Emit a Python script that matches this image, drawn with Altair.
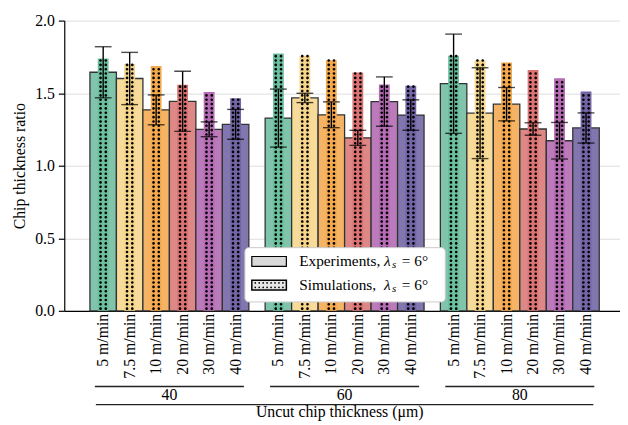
import math
import altair as alt
import pandas as pd

groups = ["40", "60", "80"]
speeds = ["5 m/min", "7.5 m/min", "10 m/min", "20 m/min", "30 m/min", "40 m/min"]

exp_40 = [1.644, 1.601, 1.385, 1.444, 1.251, 1.285]
exp_60 = [1.328, 1.467, 1.351, 1.192, 1.442, 1.349]
exp_80 = [1.565, 1.362, 1.424, 1.253, 1.172, 1.260]

err_40 = [0.176, 0.180, 0.103, 0.207, 0.051, 0.103]
err_60 = [0.200, 0.032, 0.089, 0.052, 0.170, 0.105]
err_80 = [0.342, 0.313, 0.115, 0.043, 0.126, 0.104]

sim_40 = [1.739, 1.701, 1.687, 1.558, 1.508, 1.465]
sim_60 = [1.773, 1.757, 1.726, 1.642, 1.560, 1.551]
sim_80 = [1.757, 1.726, 1.712, 1.660, 1.603, 1.512]

exp_colors = ["#80c4ab", "#f6db9b", "#f5b465", "#de8787", "#bb7bbb", "#8276ae"]
sim_colors = ["#6abf9e", "#f5d58a", "#f5a94e", "#db7373", "#b56ab4", "#7365a5"]

rows = []
for g, e, s, r in zip(groups, [exp_40, exp_60, exp_80], [sim_40, sim_60, sim_80],
                      [err_40, err_60, err_80]):
    for sp, ev, sv, rv in zip(speeds, e, s, r):
        rows.append(dict(group=g, speed=sp, exp=ev, sim=sv, lo=ev - rv, hi=ev + rv))
df = pd.DataFrame(rows)
gdf = pd.DataFrame({"group": groups})
one = pd.DataFrame({"k": [0]})

FONT = "Liberation Serif"
FS = 16
LFS = 15.5
W = 563
H = 294


def dot(cx, cy, r, n=10):
    pts = [(cx + r * math.cos(2 * math.pi * k / n), cy + r * math.sin(2 * math.pi * k / n))
           for k in range(n)]
    return "M" + "L".join(f"{x:.3f},{y:.3f}" for x, y in pts) + "Z"


pair_path = dot(-0.52, 0, 0.27) + dot(0.52, 0, 0.27)
leg_path = "".join(dot(-0.8 + i * 0.2286, yy, 0.05) for i in range(8) for yy in (-0.13, 0.13))

xenc = alt.X("group:N", sort=groups,
             scale=alt.Scale(range=[0, 568], paddingInner=0.093, paddingOuter=0.1465),
             axis=alt.Axis(labels=False, ticks=False, title=None, grid=False,
                           domainColor="black", domainWidth=1.2))
xoff = alt.XOffset("speed:N", sort=speeds, scale=alt.Scale(paddingInner=0, paddingOuter=0))
yscale = alt.Scale(domain=[0, 2], nice=False)
yaxis = alt.Axis(title="Chip thickness ratio", values=[0, 0.5, 1, 1.5, 2], format=".1f",
                 grid=True, gridColor="#dddddd", gridWidth=1,
                 domainColor="black", domainWidth=1.2, tickColor="black", tickSize=6,
                 tickWidth=1.2, labelFont=FONT, labelFontSize=FS, labelColor="black",
                 labelPadding=4, titleFont=FONT, titleFontSize=FS, titleFontWeight="normal",
                 titleColor="black", titlePadding=7)


def Y(f):
    return alt.Y(f, type="quantitative", scale=yscale, axis=yaxis)


base = alt.Chart(df)

exp_bars = base.mark_bar(stroke="#333333", strokeWidth=1.3).encode(
    x=xenc, xOffset=xoff, y=Y("exp"),
    fill=alt.Fill("speed:N", sort=speeds, scale=alt.Scale(domain=speeds, range=exp_colors), legend=None))

sim_bars = base.mark_bar(width=11).encode(
    x=xenc, xOffset=xoff, y=Y("sim"),
    color=alt.Color("speed:N", sort=speeds, scale=alt.Scale(domain=speeds, range=sim_colors), legend=None))

dots = base.transform_calculate(rowv="sequence(0.015, datum.sim, 0.03)").transform_flatten(
    ["rowv"]).mark_point(shape=pair_path, filled=True, size=105, color="black", opacity=1,
                         strokeWidth=0).encode(x=xenc, xOffset=xoff, y=Y("rowv"))

err_rule = base.mark_rule(color="black", strokeWidth=1.4).encode(
    x=xenc, xOffset=xoff, y=Y("lo"), y2="hi")

caps = base.transform_fold(["lo", "hi"], as_=["which", "val"]).mark_tick(
    orient="horizontal", size=17, thickness=1.4, color="black").encode(
    x=xenc, xOffset=xoff, y=Y("val"))

speed_txt = base.mark_text(angle=270, align="right", baseline="middle", font=FONT,
                           fontSize=FS, color="black").encode(
    x=xenc, xOffset=xoff, y=alt.value(297), text="speed:N")

glines = alt.Chart(gdf).mark_bar(width=151, color="#222222").encode(
    x=xenc, y=alt.value(370), y2=alt.value(371.4))

glabels = alt.Chart(gdf).mark_text(font=FONT, fontSize=FS, baseline="middle", color="black").encode(
    x=xenc, y=alt.value(379.5), text="group:N")

long_line = alt.Chart(one).mark_rule(color="#222222", strokeWidth=1.4).encode(
    x=alt.value(32), x2=alt.value(536), y=alt.value(389))

xtitle = alt.Chart(one).mark_text(text="Uncut chip thickness (μm)", font=FONT, fontSize=FS,
                                  baseline="middle", align="center", color="black").encode(
    x=alt.value(279), y=alt.value(397))

leg_box = alt.Chart(one).mark_rect(fill="white", stroke="#cccccc", strokeWidth=1,
                                   cornerRadius=4).encode(
    x=alt.value(183), x2=alt.value(386), y=alt.value(230), y2=alt.value(285))

sw1 = alt.Chart(one).mark_rect(fill="#d9d9d9", stroke="black", strokeWidth=1.2).encode(
    x=alt.value(190), x2=alt.value(225), y=alt.value(239), y2=alt.value(249))
sw2 = alt.Chart(one).mark_rect(fill="#e6e6e6", stroke="black", strokeWidth=1.5).encode(
    x=alt.value(190), x2=alt.value(225), y=alt.value(263), y2=alt.value(273))
sw2_dots = alt.Chart(one).mark_point(shape=leg_path, filled=True, size=1225, color="black",
                                     opacity=1, strokeWidth=0).encode(
    x=alt.value(207.5), y=alt.value(268))

legend_layers = []
for label, yy in [("Experiments,", 244), ("Simulations,", 268)]:
    legend_layers.append(alt.Chart(one).mark_text(text=label, font=FONT, fontSize=LFS, align="left",
                                                  baseline="middle", color="black").encode(
        x=alt.value(238), y=alt.value(yy)))
    legend_layers.append(alt.Chart(one).mark_text(text="λ", font=FONT, fontSize=LFS, fontStyle="italic",
                                                  align="left", baseline="middle", color="black").encode(
        x=alt.value(324), y=alt.value(yy)))
    legend_layers.append(alt.Chart(one).mark_text(text="s", font=FONT, fontSize=11, fontStyle="italic",
                                                  align="left", baseline="middle", color="black").encode(
        x=alt.value(332), y=alt.value(yy + 4)))
    legend_layers.append(alt.Chart(one).mark_text(text="= 6°", font=FONT, fontSize=LFS,
                                                  align="left", baseline="middle", color="black").encode(
        x=alt.value(342), y=alt.value(yy)))

chart = alt.layer(
    exp_bars, sim_bars, dots, err_rule, caps, speed_txt, glines, glabels, long_line, xtitle,
    leg_box, sw1, sw2, sw2_dots, *legend_layers
).properties(
    width=W, height=H,
    autosize=alt.AutoSizeParams(type="none"),
    padding={"left": 57, "top": 10, "right": 0, "bottom": 120},
).configure_view(stroke=None)

chart.save("out.html", embed_options={"renderer": "svg", "actions": False})
